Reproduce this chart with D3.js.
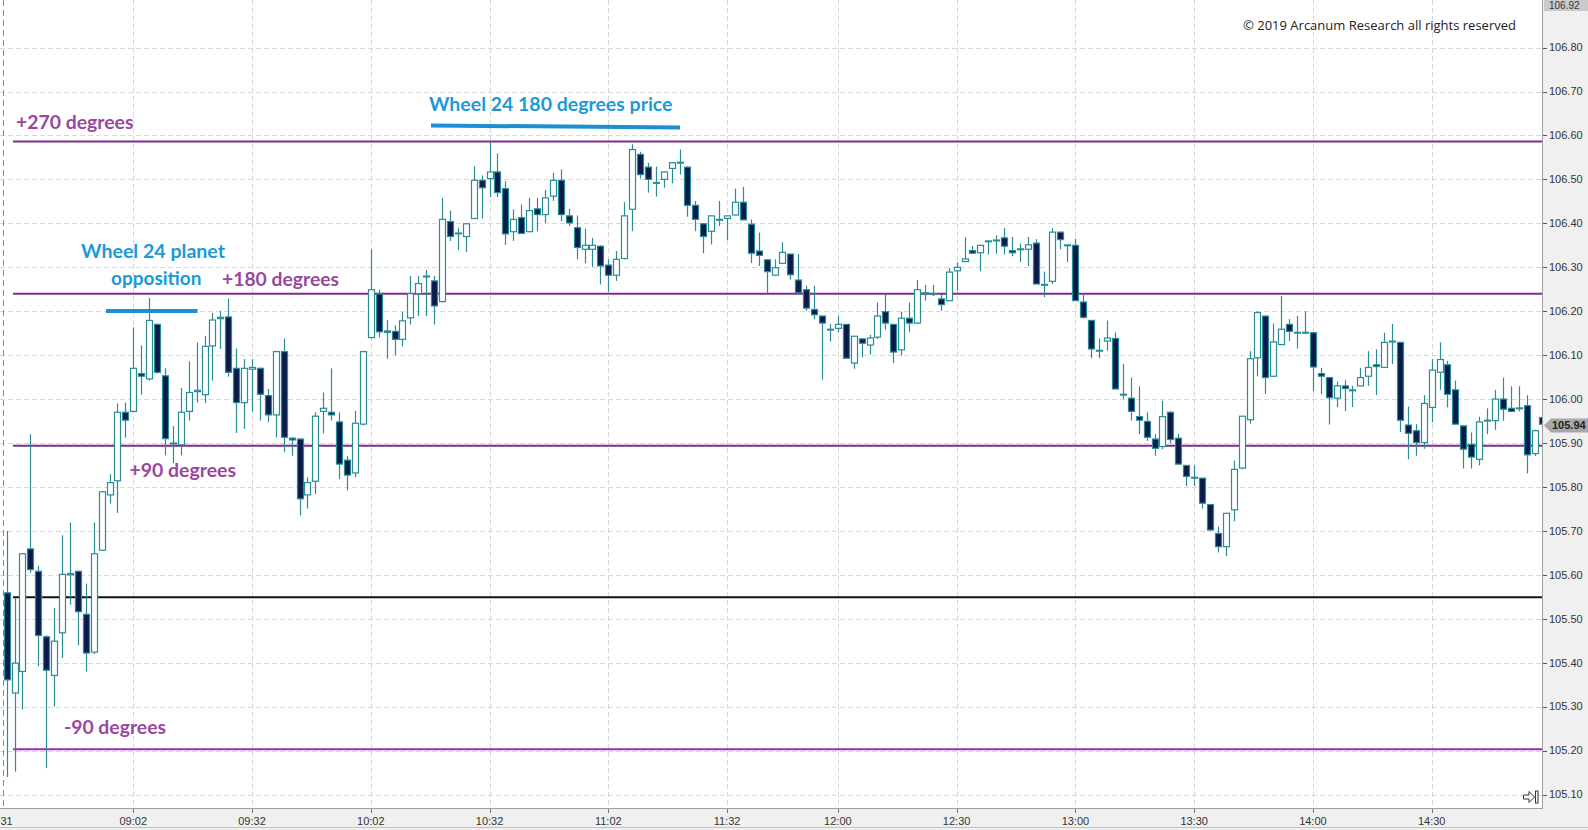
<!DOCTYPE html>
<html><head><meta charset="utf-8">
<script src="https://cdn.jsdelivr.net/npm/d3@7"></script>
<style>html,body{margin:0;padding:0;background:#fff;overflow:hidden}</style>
</head><body>
<svg id="chart" width="1588" height="830"></svg>
<script>
// ---- data (2-minute candles starting 08:30) ----
const startTime = "08:30";
const barMinutes = 2;
const opens = [105.559,105.331,105.380,105.659,105.608,105.459,105.371,105.468,105.600,105.608,105.510,105.424,105.656,105.782,105.814,105.970,105.972,106.058,106.046,106.170,106.053,105.900,105.896,105.972,106.017,
106.010,106.121,106.183,106.187,106.070,105.992,106.068,106.070,106.008,105.964,106.108,105.911,105.909,105.782,105.813,105.972,105.970,105.948,105.861,105.832,105.943,106.140,106.239,106.155,
106.154,106.136,106.185,106.240,106.278,106.269,106.222,106.404,106.377,106.370,106.411,106.498,106.502,106.517,106.479,106.381,106.413,106.381,106.433,106.420,106.462,106.498,106.417,106.390,
106.341,106.341,106.348,106.305,106.282,106.320,106.432,106.557,106.528,106.491,106.500,106.525,106.537,106.528,106.441,106.399,106.382,106.407,106.411,106.419,106.448,106.398,106.337,106.317,106.282,
106.309,106.330,106.271,106.249,106.204,106.189,106.157,106.161,106.170,106.082,106.137,106.123,106.141,106.199,106.170,106.112,106.184,106.173,106.240,106.238,106.228,106.224,106.292,106.313,106.338,
106.333,106.358,106.360,106.367,106.338,106.340,106.341,106.355,106.259,106.268,106.380,106.349,106.350,106.221,106.179,106.109,106.132,106.138,106.009,106.002,105.960,105.949,105.909,105.892,
105.970,105.911,105.849,105.820,105.820,105.760,105.694,105.664,105.748,105.843,105.953,106.094,106.189,106.052,106.124,106.170,106.150,106.150,106.151,106.058,106.049,106.002,106.030,106.019,
106.030,106.052,106.078,106.072,106.130,106.129,105.941,105.928,105.901,105.981,106.061,106.078,106.021,105.939,105.897,105.863,105.950,105.951,106.000,105.979,105.978,105.985,105.876,105.958];
const highs = [105.700,105.548,105.648,105.920,105.620,105.462,105.525,105.690,105.719,105.610,105.580,105.719,105.790,105.829,105.990,105.992,106.163,106.122,106.230,106.172,106.070,105.939,106.025,106.086,106.129,
106.144,106.196,106.201,106.229,106.115,106.091,106.091,106.072,106.023,106.110,106.138,105.913,105.911,105.822,105.970,106.015,106.070,105.970,105.870,105.973,106.110,106.341,106.249,106.180,
106.168,106.198,106.280,106.280,106.294,106.280,106.458,106.429,106.390,106.400,106.530,106.509,106.586,106.559,106.496,106.432,106.443,106.458,106.458,106.476,106.515,106.523,106.433,106.418,
106.388,106.367,106.350,106.318,106.337,106.448,106.580,106.563,106.538,106.529,106.518,106.540,106.568,106.530,106.451,106.400,106.418,106.451,106.418,106.479,106.483,106.409,106.379,106.318,106.318,
106.357,106.331,106.330,106.258,106.258,106.190,106.171,106.189,106.171,106.144,106.138,106.146,106.220,106.239,106.171,106.199,106.220,106.271,106.260,106.260,106.239,106.298,106.311,106.368,106.349,
106.351,106.360,106.373,106.389,106.369,106.354,106.369,106.364,106.290,106.389,106.381,106.351,106.365,106.240,106.180,106.138,106.179,106.152,106.080,106.049,106.029,105.970,105.920,105.996,
105.972,105.921,105.850,105.849,105.821,105.761,105.710,105.741,105.860,105.961,106.109,106.200,106.190,106.172,106.235,106.182,106.189,106.200,106.152,106.071,106.050,106.040,106.043,106.030,
106.071,106.109,106.113,106.151,106.171,106.130,105.983,105.943,106.009,106.091,106.129,106.087,106.042,105.940,105.924,105.960,105.979,106.021,106.049,106.029,106.029,106.009,105.930,105.960];
const lows = [105.140,105.152,105.293,105.605,105.392,105.160,105.300,105.411,105.532,105.440,105.380,105.420,105.655,105.762,105.741,105.912,105.970,106.010,106.042,106.058,105.872,105.854,105.872,105.951,105.992,
105.991,106.042,106.114,106.051,105.923,105.932,105.971,105.951,105.947,105.913,105.879,105.871,105.735,105.751,105.784,105.922,105.951,105.818,105.792,105.822,105.940,106.138,106.140,106.092,
106.100,106.120,106.170,106.189,106.189,106.170,106.220,106.360,106.339,106.335,106.410,106.411,106.460,106.460,106.351,106.360,106.376,106.380,106.382,106.401,106.451,106.405,106.394,106.318,
106.309,106.301,106.261,106.244,106.269,106.318,106.382,106.502,106.470,106.461,106.481,106.491,106.511,106.415,106.382,106.332,106.352,106.394,106.362,106.418,106.407,106.310,106.303,106.242,106.281,
106.308,106.272,106.241,106.201,106.182,106.044,106.131,106.152,106.092,106.069,106.095,106.101,106.137,106.158,106.082,106.099,106.152,106.171,106.224,106.234,106.201,106.223,106.247,106.312,106.331,
106.291,106.329,106.331,106.329,106.325,106.312,106.303,106.261,106.232,106.262,106.341,106.312,106.224,106.183,106.093,106.093,106.110,106.022,106.000,105.951,105.920,105.905,105.871,105.886,
105.900,105.851,105.802,105.802,105.751,105.701,105.651,105.643,105.722,105.840,105.944,106.052,106.012,106.050,106.123,106.132,106.115,106.149,106.018,106.011,105.942,105.982,105.973,105.982,
106.029,106.030,106.009,106.071,106.080,105.925,105.863,105.871,105.887,105.947,106.021,105.981,105.942,105.842,105.842,105.849,105.920,105.930,105.951,105.971,105.972,105.831,105.870,105.940];
const closes = [105.361,105.399,105.648,105.612,105.462,105.383,105.449,105.601,105.603,105.516,105.422,105.648,105.789,105.810,105.970,105.952,106.070,106.052,106.179,106.061,105.910,105.898,105.970,106.015,106.020,
106.120,106.180,106.186,106.061,105.992,106.070,106.072,106.011,105.964,106.108,105.913,105.907,105.773,105.810,105.961,105.979,105.964,105.852,105.827,105.945,106.108,106.249,106.153,106.152,
106.136,106.178,106.240,106.263,106.280,106.212,106.409,106.370,106.378,106.399,106.498,106.481,106.517,106.470,106.376,106.409,106.377,106.429,106.420,106.458,106.498,106.420,106.401,106.345,
106.350,106.350,106.303,106.282,106.318,106.417,106.568,106.511,106.500,106.493,106.517,106.538,106.539,106.441,106.409,106.370,106.417,106.409,106.417,106.448,106.408,106.332,106.327,106.290,106.299,
106.334,106.283,106.242,106.207,106.192,106.173,106.159,106.170,106.093,106.143,106.127,106.139,106.189,106.173,106.107,106.184,106.173,106.249,106.242,106.240,106.215,106.289,106.300,106.319,106.332,
106.350,106.360,106.362,106.348,106.333,106.342,106.351,106.262,106.261,106.380,106.363,106.351,106.224,106.186,106.114,106.111,106.139,106.023,106.011,105.972,105.952,105.913,105.888,105.960,
105.908,105.852,105.824,105.822,105.763,105.702,105.664,105.740,105.840,105.961,106.092,106.197,106.049,106.130,106.159,106.154,106.152,106.152,106.073,106.052,106.003,106.030,106.024,106.021,
106.049,106.072,106.074,106.129,106.132,105.952,105.922,105.901,105.990,106.066,106.090,106.011,105.943,105.886,105.868,105.948,105.952,106.000,105.977,105.972,105.980,105.873,105.928,105.943];

const priceTicks = [105.10,105.20,105.30,105.40,105.50,105.60,105.70,105.80,105.90,106.00,106.10,106.20,106.30,106.40,106.50,106.60,106.70,106.80];
const timeTicks = ["09:02","09:32","10:02","10:32","11:02","11:32","12:00","12:30","13:00","13:30","14:00","14:30"];
const levelNames = ["+270 degrees","+180 degrees","+90 degrees","base","-90 degrees"];
const levelPrices = [106.586,106.240,105.894,105.549,105.203];
const lastPrice = 105.94;
const topMarker = 106.92;

// ---- layout / styles ----
const W = 1588, H = 830, plotR = 1542, plotB = 808;
const teal = "#2a8d96", bearFill = "#0b1a4a";
const levelColor = {"+270 degrees":"#7a2d8c","+180 degrees":"#7a2d8c","+90 degrees":"#7a2d8c","base":"#111","-90 degrees":"#9d27bf"};
const svg = d3.select("#chart");

const parseT = d3.timeParse("%H:%M");
const t0 = parseT(startTime);
const n = opens.length;
const times = opens.map((_, i) => d3.timeMinute.offset(t0, i * barMinutes));
const x = d3.scaleTime().domain([times[0], times[n - 1]]).range([6.6, 6.6 + (n - 1) * 7.917]);
const y = d3.scaleLinear().domain([105.10, 106.80]).range([794.5, 47.6]);

// backgrounds
svg.append("rect").attr("x",0).attr("y",0).attr("width",W).attr("height",H).attr("fill","#f0f0f0");
svg.append("rect").attr("x",0).attr("y",0).attr("width",plotR).attr("height",plotB).attr("fill","#fff");

svg.append("clipPath").attr("id","clip").append("rect").attr("x",0).attr("y",0).attr("width",plotR).attr("height",plotB);
const plot = svg.append("g").attr("clip-path","url(#clip)");

// grid
plot.selectAll("line.hg").data(priceTicks).join("line")
  .attr("x1",0).attr("x2",plotR).attr("y1",d=>Math.round(y(d))+0.5).attr("y2",d=>Math.round(y(d))+0.5)
  .attr("stroke","#d9d9d9").attr("stroke-dasharray","5,3").attr("stroke-width",1);
plot.selectAll("line.vg").data(timeTicks).join("line")
  .attr("x1",d=>Math.round(x(parseT(d)))+0.5).attr("x2",d=>Math.round(x(parseT(d)))+0.5).attr("y1",0).attr("y2",plotB)
  .attr("stroke","#d9d9d9").attr("stroke-dasharray","5,3").attr("stroke-width",1);
// day separator
plot.append("line").attr("x1",3.5).attr("x2",3.5).attr("y1",0).attr("y2",plotB)
  .attr("stroke","#8a8a8a").attr("stroke-dasharray","6,4").attr("stroke-width",1);

// level lines
plot.selectAll("line.lvl").data(levelNames).join("line")
  .attr("x1",13).attr("x2",plotR)
  .attr("y1",(d,i)=>y(levelPrices[i])).attr("y2",(d,i)=>y(levelPrices[i]))
  .attr("stroke",d=>levelColor[d]).attr("stroke-width",2);

// candles
const idx = d3.range(n);
const cg = plot.append("g");
cg.selectAll("line.wick").data(idx).join("line")
  .attr("x1",i=>Math.round(x(times[i]))+0.5).attr("x2",i=>Math.round(x(times[i]))+0.5)
  .attr("y1",i=>y(highs[i])).attr("y2",i=>y(lows[i]))
  .attr("stroke",teal).attr("stroke-width",1.2);
cg.selectAll("rect.body").data(idx).join("rect")
  .attr("x",i=>Math.round(x(times[i]))-2.5)
  .attr("width",6)
  .attr("y",i=>y(Math.max(opens[i],closes[i])))
  .attr("height",i=>Math.max(0.8, Math.abs(y(opens[i])-y(closes[i]))))
  .attr("fill",i=>closes[i]>=opens[i]?"#ffffff":bearFill)
  .attr("stroke",teal).attr("stroke-width",1.2);

// annotations
const ann = plot.append("g").attr("font-family","Lato, 'Open Sans', sans-serif").attr("font-weight","bold").attr("font-size",18);
function label(t, x0, yb, w, col){
  ann.append("text").attr("x",x0).attr("y",yb).attr("fill",col).text(t)
    .attr("textLength",w).attr("lengthAdjust","spacingAndGlyphs");
}
const purpleText = "#9a479e", blueText = "#1b9ad6";
label("+270 degrees", 16, 128.5, 117.5, purpleText);
label("Wheel 24 180 degrees price", 429, 111, 243.5, blueText);
label("Wheel 24 planet", 81, 258, 144, blueText);
label("opposition", 111, 284.5, 90.5, blueText);
label("+180 degrees", 222, 285.5, 117, purpleText);
label("+90 degrees", 129.5, 477, 106.5, purpleText);
label("-90 degrees", 64, 734, 102, purpleText);
ann.append("line").attr("x1",431).attr("y1",125.5).attr("x2",680).attr("y2",127.5).attr("stroke","#1b8fd2").attr("stroke-width",4);
ann.append("line").attr("x1",106).attr("y1",311).attr("x2",197.5).attr("y2",311).attr("stroke","#1b8fd2").attr("stroke-width",4);

plot.append("text").attr("x",1516).attr("y",30).attr("text-anchor","end")
  .attr("font-family","'Open Sans', 'Noto Sans', sans-serif").attr("font-size",13).attr("fill","#222")
  .attr("textLength",273).attr("lengthAdjust","spacingAndGlyphs")
  .text("\u00A9 2019 Arcanum Research all rights reserved");

// scroll icon bottom right
plot.append("path").attr("d","M1523.5,795 L1529,795 L1529,791.5 L1534.5,797 L1529,802.5 L1529,799 L1523.5,799 Z")
  .attr("fill","#fff").attr("stroke","#333").attr("stroke-width",1);
plot.append("rect").attr("x",1535.5).attr("y",791).attr("width",2.5).attr("height",12).attr("fill","#fff").attr("stroke","#333").attr("stroke-width",1);

// borders
svg.append("line").attr("x1",plotR+0.5).attr("x2",plotR+0.5).attr("y1",0).attr("y2",plotB+1).attr("stroke","#a0a0a0");
svg.append("line").attr("x1",0).attr("x2",plotR+1).attr("y1",plotB+0.5).attr("y2",plotB+0.5).attr("stroke","#a0a0a0");
svg.append("line").attr("x1",0).attr("x2",W).attr("y1",827.5).attr("y2",827.5).attr("stroke","#b8c4d0");

// right price axis
const ax = svg.append("g").attr("font-family","'Liberation Sans', Arial, sans-serif").attr("font-size",11).attr("fill","#333");
ax.selectAll("line").data(priceTicks).join("line")
  .attr("x1",plotR+1).attr("x2",plotR+5).attr("y1",d=>Math.round(y(d))+0.5).attr("y2",d=>Math.round(y(d))+0.5).attr("stroke","#555");
ax.selectAll("text").data(priceTicks).join("text")
  .attr("x",plotR+7).attr("y",d=>y(d)).attr("dy","0.35em").text(d=>d.toFixed(2));

// top marker (high of range, at the top edge)
svg.append("rect").attr("x",plotR+2).attr("y",-2).attr("width",44).attr("height",13).attr("fill","#c9c9c9");
svg.append("text").attr("x",plotR+7).attr("y",8.5).attr("font-family","'Liberation Sans', Arial, sans-serif").attr("font-size",10).attr("fill","#333").text(topMarker.toFixed(2));

// last price marker
const ly = y(lastPrice);
svg.append("path").attr("d",`M${plotR+2},${ly} L${plotR+9},${ly-7} L${W},${ly-7} L${W},${ly+7} L${plotR+9},${ly+7} Z`).attr("fill","#a8a8a8");
svg.append("text").attr("x",plotR+10).attr("y",ly).attr("dy","0.35em").attr("font-family","'Liberation Sans', Arial, sans-serif").attr("font-size",11).attr("font-weight","bold").attr("fill","#222").text(lastPrice.toFixed(2));

// time axis
const tx = svg.append("g").attr("font-family","'Liberation Sans', Arial, sans-serif").attr("font-size",11).attr("fill","#333");
tx.selectAll("line").data(timeTicks).join("line")
  .attr("x1",d=>Math.round(x(parseT(d)))+0.5).attr("x2",d=>Math.round(x(parseT(d)))+0.5).attr("y1",plotB+1).attr("y2",plotB+5).attr("stroke","#777");
tx.selectAll("text").data(timeTicks).join("text")
  .attr("x",d=>x(parseT(d))).attr("y",825).attr("text-anchor","middle").text(d=>d);
tx.append("text").attr("x",0.5).attr("y",825).attr("text-anchor","start").text("31");
</script>
</body></html>
